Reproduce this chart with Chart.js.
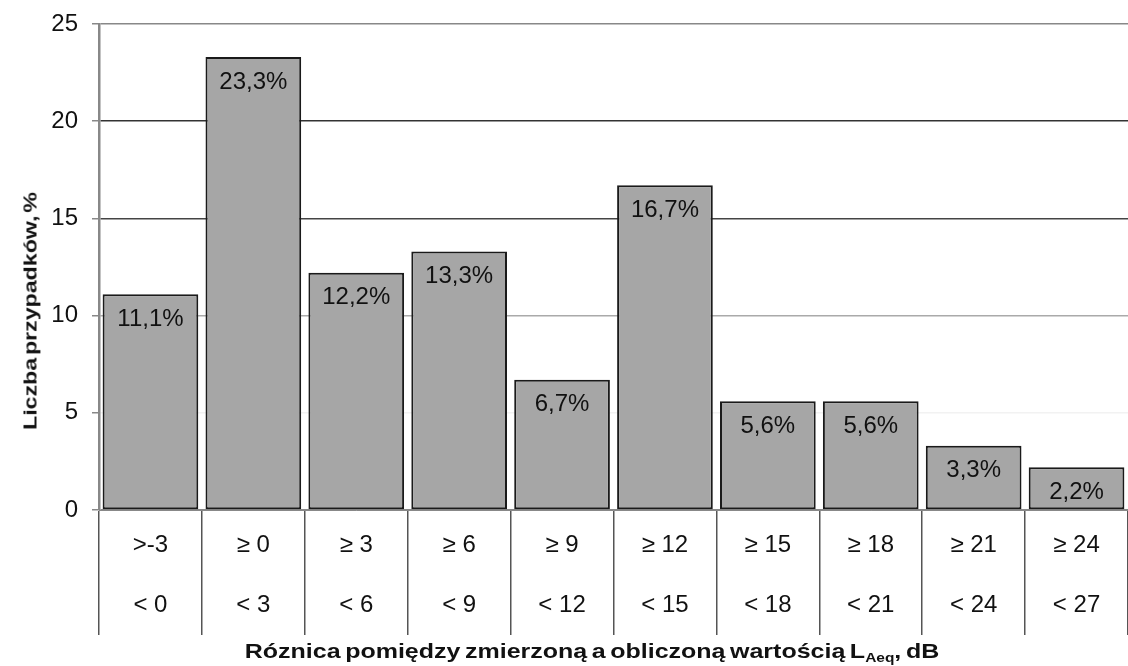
<!DOCTYPE html>
<html>
<head>
<meta charset="utf-8">
<script src="https://cdn.jsdelivr.net/npm/chart.js@4.4.1/dist/chart.umd.min.js"></script>
<style>
  html, body { margin: 0; padding: 0; background: #fff; }
  #wrap { position: relative; width: 1128px; height: 666px; overflow: hidden; }
  #chart { position: absolute; left: 0; top: 0; }
  .title { position: absolute; font-family: "Liberation Sans", Arial, sans-serif; font-weight: bold; color: #111; white-space: nowrap; line-height: 1; }
  #xtitle { left: 592px; top: 652px; font-size: 21px; word-spacing: -2px; transform: translate(-50%, -50%) scaleX(1.19); }
  #xtitle sub { font-size: 13px; vertical-align: -4px; }
  #ytitle { left: 30px; top: 311px; font-size: 19px; word-spacing: -3px; transform: translate(-50%, -50%) rotate(-90deg) scaleX(1.22); }
</style>
</head>
<body>
<div id="wrap">
  <canvas id="chart" width="1128" height="666"></canvas>
  <div class="title" id="ytitle">Liczba przypadków, %</div>
  <div class="title" id="xtitle">Róznica pomiędzy zmierzoną a obliczoną wartością L<sub>Aeq</sub>, dB</div>
</div>
<script>
// categories: lower and upper bound of each class
const lowerBounds = ['>-3', '≥ 0', '≥ 3', '≥ 6', '≥ 9', '≥ 12', '≥ 15', '≥ 18', '≥ 21', '≥ 24'];
const upperBounds = ['< 0', '< 3', '< 6', '< 9', '< 12', '< 15', '< 18', '< 21', '< 24', '< 27'];

// share of cases, %
const shares = [11.1, 23.3, 12.2, 13.3, 6.7, 16.7, 5.6, 5.6, 3.3, 2.2];

const yTicks = [0, 5, 10, 15, 20, 25];

const FONT = '"Liberation Sans", Arial, sans-serif';

// gridline shade for each y tick (fades out towards the bottom like the scan)
const gridShade = { 0: '#888', 5: '#f2f2f2', 10: '#aaa', 15: '#444', 20: '#333', 25: '#888' };

// percent labels inside the bars
const barLabels = {
    id: 'barLabels',
    afterDatasetsDraw(chart) {
        const ctx = chart.ctx;
        const meta = chart.getDatasetMeta(0);
        ctx.save();
        ctx.font = '24px ' + FONT;
        ctx.fillStyle = '#111';
        ctx.textAlign = 'center';
        ctx.textBaseline = 'middle';
        meta.data.forEach((bar, i) => {
            const txt = shares[i].toFixed(1).replace('.', ',') + '%';
            ctx.fillText(txt, bar.x, bar.y + 25);
        });
        ctx.restore();
    }
};

new Chart(document.getElementById('chart'), {
    type: 'bar',
    data: {
        labels: lowerBounds.map((lo, i) => [lo, upperBounds[i]]),
        datasets: [{
            data: shares,
            backgroundColor: '#a6a6a6',
            borderColor: '#1a1a1a',
            borderWidth: 2,
            borderSkipped: false,
            barPercentage: 0.93,
            categoryPercentage: 1.0
        }]
    },
    options: {
        responsive: false,
        animation: false,
        layout: { padding: { top: 24, right: 0, left: 0, bottom: 0 } },
        plugins: {
            legend: { display: false },
            tooltip: { enabled: false }
        },
        scales: {
            x: {
                offset: true,
                border: { color: '#888', width: 1 },
                grid: {
                    offset: true,
                    drawOnChartArea: false,
                    drawTicks: true,
                    tickLength: 125,
                    color: '#555',
                    lineWidth: 1.5
                },
                ticks: {
                    color: '#111',
                    font: { family: FONT, size: 24, lineHeight: 2.5 },
                    padding: -120,
                    maxRotation: 0,
                    autoSkip: false
                },
                afterFit: scale => { scale.height = 156; }
            },
            y: {
                min: 0,
                max: 25,
                afterBuildTicks: scale => { scale.ticks = yTicks.map(v => ({ value: v })); },
                border: { color: '#888', width: 2.5 },
                grid: {
                    color: c => gridShade[c.tick.value] || '#888',
                    lineWidth: 1.5,
                    tickLength: 7,
                    tickColor: '#888'
                },
                ticks: {
                    color: '#111',
                    font: { family: FONT, size: 24, lineHeight: 0.8 },
                    padding: 14
                },
                afterFit: scale => { scale.width = 99; }
            }
        }
    },
    plugins: [barLabels]
});
</script>
</body>
</html>
